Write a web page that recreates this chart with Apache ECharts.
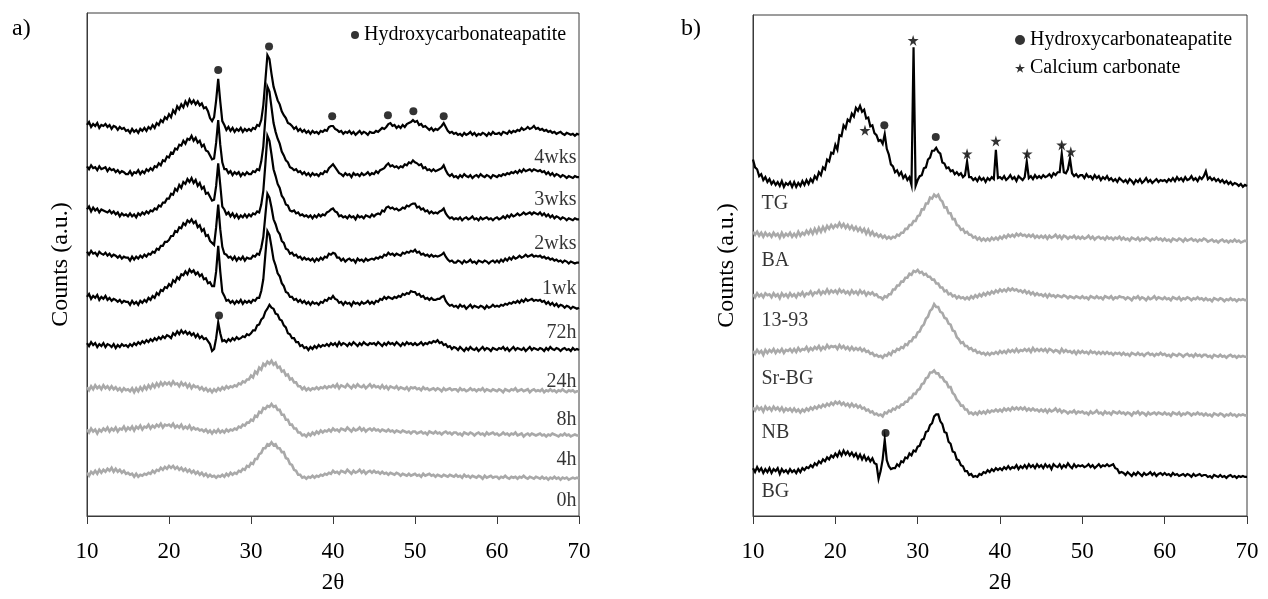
<!DOCTYPE html>
<html><head><meta charset="utf-8">
<script src="https://cdn.jsdelivr.net/npm/echarts@6/dist/echarts.min.js"></script>
<style>html,body{margin:0;padding:0;background:#fff}#c{width:1268px;height:599px}</style>
</head><body><div id="c"></div>
<script>
// ---------------- DATA ----------------
// 2θ sampling: 10° to 70°, step 0.25° (241 points)
const thetaStart = 10, thetaStep = 0.25, thetaCount = 241;
const xTicks = [10, 20, 30, 40, 50, 60, 70];

// Panel a) intensities (a.u.) above each pattern's own baseline
const a4wks = [
10,13,8,11,9,12,7,10,9,11,8,10,6,9,8,5,8,6,7,4,
5,2,6,3,5,2,6,4,7,4,8,6,10,7,12,10,15,13,18,16,
21,18,25,22,29,26,31,28,34,30,36,32,35,31,34,30,32,27,28,24,
17,14,18,35,57,34,14,10,5,8,4,7,3,6,4,7,3,6,4,6,
4,7,6,10,9,15,30,55,81,77,62,49,42,35,31,24,20,17,12,11,
9,6,8,4,6,3,5,2,4,1,4,2,3,1,4,3,5,4,8,9,
9,6,5,3,4,1,3,2,4,1,3,0,2,4,1,3,2,0,3,2,
2,4,3,5,7,6,8,11,12,9,10,7,9,7,10,8,11,12,13,15,
13,14,10,11,8,9,7,5,7,4,6,5,7,9,12,8,4,2,3,1,
2,0,1,-1,2,0,1,3,0,2,-1,1,0,2,1,-1,2,0,3,1,
1,2,0,3,2,1,4,2,4,3,5,4,7,5,6,8,6,7,9,6,
7,5,6,4,5,3,4,2,3,1,2,3,1,0,2,1,0,1,-1,1,
0];
const a3wks = [
11,8,12,9,10,7,11,8,9,10,6,9,7,8,5,7,4,6,5,3,
3,6,2,5,4,7,3,6,4,8,6,9,7,11,10,14,12,17,16,21,
20,25,24,29,28,33,32,37,34,39,38,42,37,40,35,37,31,33,27,26,
22,18,19,35,58,33,15,8,8,4,6,2,5,3,5,1,4,2,5,3,
3,6,5,8,7,16,31,60,92,87,71,55,46,39,34,26,22,17,15,10,
9,7,8,5,6,3,5,2,4,1,4,2,3,1,4,3,6,5,9,11,
13,10,7,4,3,1,4,2,3,0,4,2,3,1,4,2,3,5,2,4,
3,6,4,7,8,9,12,14,11,12,10,11,9,11,10,13,12,15,14,17,
15,14,12,13,9,10,7,8,6,8,6,7,8,9,12,7,3,1,3,0,
1,-1,2,0,3,1,0,2,-1,1,2,0,3,1,0,2,1,-1,2,1,
0,2,1,3,2,4,3,5,4,6,4,7,5,8,6,7,8,6,8,7,
6,7,5,6,3,5,2,4,1,3,2,0,2,1,-1,1,0,-1,1,0,
0];
const a2wks = [
10,13,8,12,9,11,7,10,9,8,7,9,6,8,5,7,3,6,4,5,
3,6,3,5,2,6,4,7,5,8,6,9,8,11,10,14,13,17,17,21,
21,26,25,31,29,35,32,38,36,41,38,42,37,40,34,37,31,33,26,27,
23,19,20,34,57,35,13,10,5,7,3,6,2,5,1,4,2,5,2,5,
3,6,5,8,7,15,29,56,85,80,66,51,44,36,32,24,21,15,14,9,
8,9,6,7,4,5,3,4,2,4,1,4,2,5,3,5,4,7,8,10,
11,8,7,3,4,2,3,1,4,2,3,0,4,2,3,1,4,3,2,5,
3,5,6,5,9,8,12,13,11,12,10,11,9,10,12,11,14,13,15,16,
16,12,13,10,11,8,9,6,8,6,7,6,8,9,11,6,3,1,2,0,
1,0,2,-1,1,2,0,1,3,0,1,-1,2,0,1,2,0,1,-1,1,
2,0,1,3,1,4,2,5,3,4,6,4,5,7,5,6,7,5,7,6,
5,7,4,6,3,5,2,4,1,3,2,0,2,1,-1,1,0,-1,1,0,
0];
const a1wk = [
11,8,12,9,10,7,11,9,8,10,7,9,6,8,7,5,7,4,6,5,
5,2,6,3,6,4,7,5,8,6,9,8,11,10,14,13,17,17,21,21,
23,27,27,32,31,36,35,40,38,43,41,44,40,42,36,38,32,34,27,28,
22,20,18,36,59,34,16,9,8,5,6,3,6,2,5,3,6,2,5,4,
4,7,6,9,8,15,26,48,70,66,56,44,39,32,29,22,20,14,13,9,
10,7,8,5,6,3,5,3,4,2,4,1,4,2,5,3,6,5,9,8,
10,9,5,5,2,4,1,3,4,2,3,0,4,2,3,1,4,2,3,4,
3,5,4,6,5,8,7,10,8,9,7,9,8,7,10,9,11,10,12,11,
13,10,11,8,9,7,8,6,8,6,7,6,7,8,10,6,3,1,2,0,
0,2,1,-1,2,0,1,3,0,1,-1,2,1,0,2,1,-1,1,2,0,
2,0,3,1,4,2,5,3,6,4,5,7,5,6,8,6,7,8,6,7,
6,7,5,6,4,5,3,4,2,3,1,2,0,2,1,-1,1,0,-1,0,
0];
const a72h = [
11,14,9,12,10,13,8,11,9,12,8,10,7,9,8,6,8,5,7,6,
6,3,7,4,6,3,7,5,8,6,10,8,12,10,15,13,18,17,21,20,
24,22,28,26,31,29,34,33,37,34,39,36,38,34,36,32,34,29,30,25,
26,22,22,37,63,37,16,12,7,8,5,7,4,7,5,8,4,7,5,7,
5,8,7,10,10,17,29,54,78,74,62,49,43,35,32,25,22,16,15,11,
11,8,9,6,8,5,7,4,6,3,6,4,5,3,6,5,8,7,10,9,
12,9,8,5,6,3,6,4,5,2,6,4,5,3,6,4,5,7,4,6,
4,7,6,9,8,11,9,11,10,9,11,10,12,11,14,13,15,14,17,16,
16,13,14,11,12,9,10,8,10,8,8,9,9,11,12,7,4,2,3,1,
2,0,3,1,2,-1,1,3,0,2,1,0,2,1,-1,2,0,1,3,1,
2,1,3,2,4,3,5,4,6,5,7,5,8,6,9,7,8,9,7,8,
7,8,6,7,4,6,3,5,2,4,1,3,2,0,2,1,-1,1,0,-1,
0];
const a24h = [
7,4,8,5,7,3,6,4,7,3,6,5,3,6,2,5,3,6,4,5,
3,6,4,7,5,8,6,9,7,10,8,11,9,12,10,13,11,14,12,15,
14,12,17,15,19,16,20,17,19,16,18,15,17,13,16,12,14,11,12,9,
6,-1,1,12,28,17,9,10,8,11,9,12,10,13,11,12,14,13,16,15,
17,20,20,25,26,31,33,39,42,46,43,42,37,36,31,30,25,23,17,16,
12,12,8,8,4,5,2,3,0,3,1,4,2,5,3,5,4,6,4,7,
5,7,4,8,5,7,6,4,7,5,8,6,4,7,5,8,6,5,7,6,
7,5,8,6,4,7,5,8,6,7,5,8,6,4,7,5,8,6,7,5,
7,5,6,8,5,7,6,8,7,9,8,10,7,8,5,6,3,4,1,3,
2,0,3,1,-1,2,0,3,1,0,2,-1,1,3,0,2,1,-1,2,1,
0,2,1,3,0,2,-1,1,3,0,2,1,0,2,-1,1,3,0,2,1,
0,2,1,-1,2,0,3,1,0,2,1,-1,1,2,0,1,-1,2,0,1,
0];
const a8h = [
4,1,5,2,6,3,5,2,6,3,5,2,5,2,4,1,3,0,3,1,
2,0,3,-1,3,0,4,1,5,2,6,3,7,4,8,5,9,6,9,7,
9,6,10,7,8,5,9,6,8,4,7,3,6,4,5,2,4,1,3,0,
2,-1,2,0,3,1,4,2,5,3,5,4,6,5,8,7,10,9,12,12,
16,14,20,18,24,22,28,26,30,28,31,27,29,24,25,20,21,16,17,12,
13,9,9,5,5,2,4,1,3,1,3,2,4,2,4,3,5,3,5,4,
6,4,7,3,6,5,4,7,5,3,6,4,7,5,4,6,3,5,7,4,
6,4,5,3,6,3,5,2,5,4,3,5,2,4,3,2,4,1,4,3,
4,2,3,1,4,2,3,1,2,3,1,3,2,0,3,1,2,3,1,2,
2,0,3,1,2,0,1,3,1,2,0,2,1,3,0,2,1,0,2,1,
0,2,1,-1,2,1,0,2,1,3,0,1,2,0,1,2,-1,1,2,0,
1,0,2,-1,1,0,2,0,1,-1,1,0,2,0,-1,1,0,1,-1,0,
0];
const a4h = [
6,3,7,4,6,2,6,4,7,5,8,4,7,5,8,4,7,6,9,5,
8,6,9,5,9,7,10,6,9,8,11,7,10,8,11,9,12,8,11,10,
11,9,12,8,10,8,11,7,9,7,10,6,8,6,7,5,6,4,6,3,
5,2,5,3,6,3,5,3,6,4,6,5,7,6,9,8,11,10,13,13,
16,15,20,19,24,23,28,27,30,29,32,29,30,26,26,21,21,16,16,11,
11,7,7,3,3,0,1,-1,2,0,3,1,4,2,5,3,5,4,6,4,
7,5,6,4,7,6,5,8,6,4,7,5,6,8,5,7,4,6,7,5,
7,5,6,4,6,5,4,6,4,5,3,5,4,3,5,4,3,4,2,4,
4,2,3,4,2,3,1,4,3,2,4,2,3,1,3,4,2,3,1,3,
3,1,2,0,3,2,1,3,2,0,2,3,1,2,0,3,1,2,3,1,
2,0,1,3,1,2,0,2,1,3,0,1,2,-1,1,2,0,2,1,0,
1,2,0,1,-1,1,0,2,1,0,-1,1,0,2,0,1,-1,0,1,0,
0];
const a0h = [
6,3,7,5,8,5,9,6,9,7,10,8,11,7,10,7,9,6,8,5,
6,4,5,2,5,2,4,3,5,4,6,5,8,6,9,8,11,9,12,10,
13,11,13,10,12,9,11,8,10,7,9,6,8,5,7,4,6,3,5,2,
4,2,3,1,3,2,4,2,5,3,6,4,6,5,8,7,10,9,13,12,
16,15,20,20,25,26,31,31,35,34,37,34,35,31,31,27,27,21,20,15,
14,9,8,4,4,1,2,0,2,1,3,1,3,2,4,3,5,4,6,5,
8,6,7,5,8,7,6,9,7,5,8,6,7,9,6,8,5,7,8,6,
8,6,7,5,7,5,6,4,6,5,4,6,5,3,5,4,3,5,3,4,
5,3,4,2,5,3,4,5,3,4,2,4,3,2,4,3,2,4,3,2,
4,2,3,1,4,2,3,1,3,2,1,3,2,0,3,1,2,3,1,2,
2,0,2,1,3,1,0,2,1,2,0,2,1,3,1,0,2,1,0,2,
1,0,2,0,1,-1,1,0,2,0,1,-1,1,0,1,-1,0,1,0,1,
0];

// Panel b) intensities (a.u.) above each pattern's own baseline
const bTG = [
27,19,17,10,12,6,9,4,7,2,5,1,4,0,5,-1,3,1,4,-1,
4,-1,3,0,5,1,6,2,7,4,10,7,14,11,19,17,27,25,34,33,
42,37,52,51,62,59,68,66,74,71,80,77,82,76,78,69,70,61,62,54,
52,46,47,43,53,38,32,22,20,14,16,11,14,8,11,6,9,1,142,0,
6,10,11,18,19,27,29,36,36,39,35,33,24,23,18,19,15,16,12,14,
11,13,9,11,25,9,9,6,8,5,9,6,8,4,8,6,9,7,37,8,
9,7,10,6,8,11,7,9,5,10,8,6,9,25,8,10,7,11,8,10,
8,11,9,10,12,9,13,11,14,14,33,14,13,17,28,13,10,12,9,11,
11,8,12,9,10,7,11,8,10,6,9,7,10,6,8,5,7,4,8,6,
4,6,3,7,5,2,6,4,7,3,5,8,4,6,3,5,7,4,6,5,
6,4,7,5,8,5,9,6,8,5,9,6,7,10,6,8,5,9,7,10,
15,7,9,6,8,5,7,4,6,3,5,2,4,1,3,2,0,2,-1,1,
0];
const bBA = [
10,7,10,6,9,5,9,6,8,5,9,6,8,4,9,5,8,6,9,5,
8,5,10,6,9,7,11,8,12,8,13,9,14,10,15,11,16,13,17,14,
17,15,19,15,18,14,17,13,16,12,15,11,14,10,13,8,12,7,10,6,
8,5,7,4,6,3,5,3,5,4,7,6,9,9,13,13,17,17,21,21,
26,27,33,33,39,39,45,44,48,46,48,43,41,35,35,29,29,23,23,17,
16,12,13,9,10,7,7,4,5,2,4,1,3,1,3,1,4,2,4,2,
5,3,6,4,7,5,7,5,8,6,8,6,7,5,7,5,7,4,6,4,
6,4,6,3,6,4,5,7,4,6,3,6,5,3,5,4,6,3,5,3,
5,3,4,6,3,5,2,4,5,3,4,2,5,3,4,2,4,3,5,2,
4,2,3,1,4,3,2,4,1,3,2,4,3,1,3,2,4,2,3,1,
3,1,2,0,3,2,1,3,2,0,3,1,2,3,1,2,0,2,1,3,
2,0,1,2,0,1,-1,1,2,0,1,-1,1,0,2,0,1,-1,0,1,
0];
const b1393 = [
6,3,7,4,6,3,7,5,6,3,7,4,6,2,7,4,6,3,7,4,
6,3,7,5,8,4,7,6,9,5,8,7,10,6,9,7,11,7,10,8,
10,7,11,8,10,7,9,6,10,7,9,6,10,7,9,5,8,6,8,5,
6,3,3,1,4,3,6,6,11,11,15,15,19,19,23,23,27,26,30,29,
31,28,29,26,27,24,24,21,21,17,17,13,13,9,10,6,7,4,5,2,
4,2,3,1,3,1,4,2,5,3,6,4,7,5,8,6,9,7,10,8,
11,9,11,9,12,10,12,10,11,9,10,8,10,7,9,6,8,5,7,5,
6,4,6,3,6,4,5,3,5,4,3,5,4,2,4,3,2,4,3,2,
4,2,3,1,4,3,2,4,2,3,1,4,3,2,4,1,3,2,4,3,
3,1,3,2,0,3,2,4,1,3,2,0,3,1,2,4,1,3,2,1,
3,1,2,0,3,2,1,3,0,2,1,3,2,0,2,1,3,1,2,0,
2,0,1,-1,2,1,0,2,1,-1,1,0,2,0,1,-1,1,0,1,0,
0];
const bSrBG = [
6,3,7,4,6,2,7,4,7,5,8,4,7,5,8,4,7,6,8,5,
8,5,9,6,8,7,10,6,9,7,10,8,11,7,10,8,12,9,11,10,
11,8,12,9,11,8,10,7,10,7,9,7,9,6,8,5,6,3,4,1,
2,0,1,-1,2,1,4,2,6,5,8,7,10,9,13,12,16,16,20,20,
25,26,31,33,39,41,47,49,54,51,51,46,45,40,39,34,33,27,26,20,
18,14,15,11,11,8,9,6,7,4,5,3,4,2,4,2,4,3,5,3,
6,4,6,4,7,5,7,5,8,5,7,6,8,6,8,5,9,6,8,6,
8,6,8,5,8,7,5,7,6,4,8,5,7,5,6,4,6,3,6,4,
6,4,5,3,6,4,5,3,5,3,5,3,5,3,4,2,4,3,4,2,
4,2,3,1,4,3,2,4,2,3,1,3,4,2,3,1,3,2,4,2,
3,1,2,0,3,2,1,3,2,0,2,3,1,2,0,3,1,2,0,2,
2,0,1,-1,2,1,0,2,0,1,-1,1,2,0,1,-1,1,0,1,0,
0];
const bNB = [
8,5,9,6,8,4,9,6,8,5,9,6,8,5,8,4,7,5,7,4,
7,4,6,3,6,4,7,5,8,6,9,7,10,8,11,9,12,10,13,11,
14,12,14,11,13,10,12,9,12,9,11,8,10,7,8,5,6,3,4,1,
2,0,1,-1,3,2,5,4,7,6,9,8,11,11,14,14,18,18,22,22,
26,27,32,33,38,39,44,44,46,43,43,39,39,35,34,29,29,23,21,16,
14,10,10,6,6,2,3,1,3,1,4,2,4,2,5,3,5,4,6,4,
6,4,7,5,7,5,8,6,8,6,8,6,8,5,7,5,7,5,6,4,
6,4,6,3,6,4,5,7,4,6,3,5,4,2,4,3,5,2,4,3,
4,2,3,1,4,2,3,5,2,3,1,4,2,3,1,4,3,2,4,2,
3,1,3,2,0,3,2,4,1,3,2,0,3,1,2,3,1,3,2,1,
3,1,2,0,3,2,1,3,0,2,1,3,2,0,2,1,3,1,2,0,
2,0,1,-1,2,1,0,2,1,-1,1,0,2,0,1,-1,1,0,1,0,
0];
const bBG = [
9,5,10,6,9,4,8,5,9,4,8,6,9,3,8,5,7,4,8,5,
7,4,8,5,9,7,10,9,12,10,14,12,16,14,18,16,20,18,22,20,
24,21,26,22,27,23,26,22,25,21,24,19,23,18,22,17,20,16,19,14,
13,-2,6,18,38,17,11,8,9,9,13,11,16,15,20,19,24,22,27,26,
31,32,38,39,46,47,53,55,62,64,64,57,54,46,45,36,34,26,25,18,
17,12,11,6,6,2,3,0,1,0,3,2,5,4,7,5,8,6,9,7,
9,7,10,8,11,8,10,9,12,8,11,9,12,9,13,10,12,9,13,10,
12,9,13,10,12,8,13,11,10,13,9,12,10,14,11,9,13,10,12,11,
12,10,11,13,10,12,9,11,13,10,12,11,13,11,12,13,9,8,4,5,
4,2,5,3,1,4,2,5,3,1,4,2,3,5,2,4,1,3,4,2,
4,2,3,1,4,2,3,1,2,3,1,3,2,0,3,1,2,3,1,2,
2,0,1,-1,2,1,0,2,0,1,-1,1,2,0,1,-1,1,0,1,0,
0];

// Names, stacking offsets (a.u.) and label anchors (a.u.)
const namesA = ['4wks','3wks','2wks','1wk','72h','24h','8h','4h','0h'];
const seriesA = [a4wks, a3wks, a2wks, a1wk, a72h, a24h, a8h, a4h, a0h];
const offsetsA = [388, 345, 302, 258, 212, 169, 127, 82, 38];
const labelYA = [365, 322, 277, 231, 187, 137, 98, 57, 16];

const namesB = ['TG','BA','13-93','Sr-BG','NB','BG'];
const seriesB = [bTG, bBA, b1393, bSrBG, bNB, bBG];
const offsetsB = [338, 281, 221, 163, 103, 40];
const labelYB = [320, 261, 200, 141, 85, 25];

// Peak annotations [2θ, a.u.]
const hcaA = [[26.0, 454], [32.2, 478], [39.9, 407], [46.7, 408], [49.8, 412], [53.5, 407], [26.1, 204]];
const hcaB = [[25.95, 400], [32.2, 388], [26.1, 85]];
const caco3B = [[23.6, 395], [29.45, 487], [36.0, 371], [39.5, 384], [43.3, 371], [47.5, 380], [48.6, 373]];

// ---------------- STYLE ----------------
const FONT = "'Liberation Serif','Times New Roman',serif";
const BLACK = '#000000', GRAY = '#a9a9a9', AXIS = '#3a3a3a';
const colorsA = [BLACK, BLACK, BLACK, BLACK, BLACK, BLACK, GRAY, GRAY, GRAY];
const colorsB = [BLACK, GRAY, GRAY, GRAY, GRAY, BLACK];
const STAR = 'path://M50,0 L61,35 L98,35 L68,57 L79,91 L50,70 L21,91 L32,57 L2,35 L39,35 Z';

const theta = [];
for (let i = 0; i < thetaCount; i++) theta.push(thetaStart + i * thetaStep);

function toPairs(vals, off) { return vals.map((v, i) => [theta[i], v + off]); }

function lineSeries(vals, off, color, idx, name) {
  return { type: 'line', name: name, xAxisIndex: idx, yAxisIndex: idx, data: toPairs(vals, off),
    showSymbol: false, symbol: 'none', silent: true, animation: false,
    lineStyle: { color: color, width: color === BLACK ? 2.2 : 2.6, join: 'miter' }, z: color === BLACK ? 3 : 2 };
}

const series = [];
seriesA.forEach((v, i) => series.push(lineSeries(v, offsetsA[i], colorsA[i], 0, namesA[i])));
seriesB.forEach((v, i) => series.push(lineSeries(v, offsetsB[i], colorsB[i], 1, namesB[i])));

series.push({ type: 'scatter', name: 'Hydroxycarbonateapatite', xAxisIndex: 0, yAxisIndex: 0, data: hcaA,
  symbol: 'circle', symbolSize: 8, itemStyle: { color: BLACK }, z: 5, animation: false, silent: true });
series.push({ type: 'scatter', name: 'Hydroxycarbonateapatite', xAxisIndex: 1, yAxisIndex: 1, data: hcaB,
  symbol: 'circle', symbolSize: 8, itemStyle: { color: BLACK }, z: 5, animation: false, silent: true });
series.push({ type: 'scatter', name: 'Calcium carbonate', xAxisIndex: 1, yAxisIndex: 1, data: caco3B,
  symbol: STAR, symbolSize: 11, itemStyle: { color: BLACK }, z: 5, animation: false, silent: true });

// curve labels
series.push({ type: 'scatter', xAxisIndex: 0, yAxisIndex: 0, symbolSize: 1, silent: true, animation: false,
  itemStyle: { color: 'rgba(0,0,0,0)' }, clip: false,
  data: namesA.map((n, i) => ({ name: n, value: [70, labelYA[i]] })),
  label: { show: true, position: 'left', distance: 2, formatter: '{b}', fontSize: 20, fontFamily: FONT, color: BLACK } });
series.push({ type: 'scatter', xAxisIndex: 1, yAxisIndex: 1, symbolSize: 1, silent: true, animation: false,
  itemStyle: { color: 'rgba(0,0,0,0)' }, clip: false,
  data: namesB.map((n, i) => ({ name: n, value: [10, labelYB[i]] })),
  label: { show: true, position: 'right', distance: 8, formatter: '{b}', fontSize: 20, fontFamily: FONT, color: BLACK } });

function xAxisCfg(idx) {
  return { type: 'value', gridIndex: idx, min: 10, max: 70, interval: 10,
    name: '2θ', nameLocation: 'middle', nameGap: 55,
    nameTextStyle: { fontSize: 23, fontFamily: FONT, color: BLACK },
    axisLine: { show: true, lineStyle: { color: AXIS, width: 1 } },
    axisTick: { show: true, inside: false, length: 8, lineStyle: { color: AXIS } },
    axisLabel: { show: true, margin: 24, fontSize: 23, fontFamily: FONT, color: BLACK,
      formatter: v => xTicks.includes(v) ? String(v) : '' },
    splitLine: { show: false } };
}
function yAxisCfg(idx, max) {
  return { type: 'value', gridIndex: idx, min: 0, max: max,
    name: 'Counts (a.u.)', nameLocation: 'middle', nameGap: 14, nameRotate: 90,
    nameTextStyle: { fontSize: 24, fontFamily: FONT, color: BLACK },
    axisLine: { show: true, lineStyle: { color: AXIS, width: 1 } },
    axisTick: { show: false }, axisLabel: { show: false }, splitLine: { show: false } };
}

const option = {
  backgroundColor: '#ffffff',
  animation: false,
  grid: [
    { left: 87, top: 13, width: 492, height: 512, show: true, borderColor: AXIS, borderWidth: 1 },
    { left: 753, top: 15, width: 494, height: 513, show: true, borderColor: AXIS, borderWidth: 1 }
  ],
  xAxis: [xAxisCfg(0), xAxisCfg(1)],
  yAxis: [yAxisCfg(0, 512), yAxisCfg(1, 513)],
  legend: [
    { data: ['Hydroxycarbonateapatite'], left: 346, top: 20, icon: 'circle', itemWidth: 8, itemHeight: 8,
      selectedMode: false, textStyle: { fontSize: 20, fontFamily: FONT, color: BLACK } },
    { data: [{ name: 'Hydroxycarbonateapatite', icon: 'circle' }, { name: 'Calcium carbonate', icon: STAR }],
      left: 1010, top: 25, orient: 'vertical', itemGap: 8, itemWidth: 10, itemHeight: 10,
      selectedMode: false, textStyle: { fontSize: 20, fontFamily: FONT, color: BLACK } }
  ],
  graphic: [
    { type: 'text', left: 12, top: 17, style: { text: 'a)', font: '24px ' + FONT, fill: BLACK } },
    { type: 'text', left: 681, top: 17, style: { text: 'b)', font: '24px ' + FONT, fill: BLACK } }
  ],
  series: series
};

const chart = echarts.init(document.getElementById('c'), null, { renderer: 'canvas' });
chart.setOption(option);
</script>
</body></html>
